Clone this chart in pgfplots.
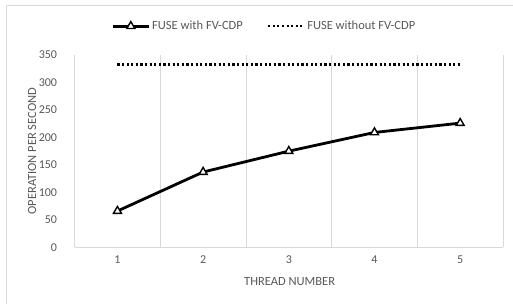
\documentclass[border=0pt]{standalone}
\usepackage{fontspec}
\setmainfont{Carlito}
\usepackage{pgfplots}
\pgfplotsset{compat=1.18}
\definecolor{txt}{HTML}{595959}
\definecolor{grd}{HTML}{D9D9D9}
\begin{document}
\begin{tikzpicture}
\useasboundingbox (0,0) rectangle (513pt,304pt);
\fill[white] (0,0) rectangle (513pt,304pt);
\draw[grd, line width=0.8pt] (6.5pt,0pt) -- (6.5pt,298.5pt) -- (513pt,298.5pt);
\begin{axis}[
  at={(74.6pt,56.7pt)}, anchor=south west,
  width=428.4pt, height=192.3pt, scale only axis,
  xmin=0.5, xmax=5.5, ymin=0, ymax=350,
  xtick={1,2,3,4,5},
  ytick={0,50,100,150,200,250,300,350},
  minor xtick={0.5,1.5,2.5,3.5,4.5,5.5},
  xminorgrids,
  minor grid style={grd, line width=0.9pt},
  extra y ticks={0}, extra y tick labels={},
  extra y tick style={grid=major, major grid style={grd, line width=1.2pt}},
  axis line style={draw=none},
  major tick length=0pt, minor tick length=0pt,
  tick style={draw=none},
  font=\fontsize{12}{14}\selectfont,
  /pgf/number format/assume math mode=true,
  ticklabel style={text=txt, font=\fontsize{12}{14}\selectfont},
  xticklabel style={yshift=-5pt},
  yticklabel style={xshift=-14pt},
  xlabel={THREAD NUMBER},
  ylabel={OPERATION PER SECOND},
  every axis x label/.style={at={(axis description cs:0.502,-0.180)}, anchor=center, text=txt, font=\fontsize{12.5}{14}\selectfont},
  every axis y label/.style={at={(axis description cs:-0.0994,0.5)}, rotate=90, anchor=center, text=txt, font=\fontsize{12.5}{14}\selectfont},
  legend columns=2,
  legend style={at={(axis description cs:0.443,1.150)}, anchor=center, draw=none, fill=none,
    text=txt, font=\fontsize{12.5}{14}\selectfont,
    /tikz/every even column/.append style={column sep=22pt}},
  legend image code/.code={\draw[mark repeat=2,mark phase=2,#1] plot coordinates {(0pt,0pt) (18pt,0pt) (36pt,0pt)};},
]
\addplot[black, line width=2.8pt, mark=triangle*, mark size=4.6pt,
  mark options={fill=white, solid, line width=1.4pt}]
  coordinates {(1,66) (2,137) (3,175) (4,209) (5,226)};
\addlegendentry{FUSE with FV-CDP}
\addplot[black, line width=2.4pt, line cap=butt, dash pattern=on 2.1pt off 2.5pt]
  coordinates {(1,333) (5,333)};
\addlegendentry{FUSE without FV-CDP}
\end{axis}
\end{tikzpicture}
\end{document}
